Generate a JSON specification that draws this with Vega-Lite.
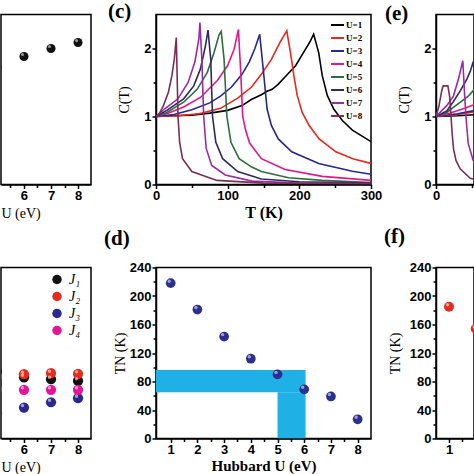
{
"$schema": "https://vega.github.io/schema/vega-lite/v6.json",
"background": "white",
"padding": {"left": 0, "top": -0.5, "right": 0, "bottom": 0},
"bounds": "flush",
"columns": 3,
"spacing": {"row": 83, "column": 65},
"resolve": {"scale": {"color": "independent"}, "legend": {"color": "independent"}},
"config": {
  "view": {"stroke": "black", "strokeWidth": 1.5},
  "axis": {"grid": false, "domainColor": "black", "domainWidth": 1.5, "tickColor": "black", "tickWidth": 1.5, "tickSize": 4, "labelFont": "Liberation Sans", "labelFontWeight": "bold", "labelFontSize": 13, "labelColor": "black", "labelPadding": 1, "titleFont": "Liberation Serif", "titleFontWeight": "bold", "titleFontSize": 15, "titleColor": "black", "labelFlush": false, "labelOverlap": false},
  "title": {"font": "Liberation Serif", "fontWeight": "bold", "fontSize": 21, "color": "black", "anchor": "start", "frame": "group", "baseline": "alphabetic", "offset": 0},
  "legend": {"labelColor": "black"}
},
"datasets": {
  "a": [{"U": 5, "v": 0.688}, {"U": 6, "v": 0.753}, {"U": 7, "v": 0.8}, {"U": 8, "v": 0.835}],
  "b": [
    {"U": 5, "J": "J₁", "v": 0.392}, {"U": 6, "J": "J₁", "v": 0.358}, {"U": 7, "J": "J₁", "v": 0.347}, {"U": 8, "J": "J₁", "v": 0.337},
    {"U": 5, "J": "J₂", "v": 0.363}, {"U": 6, "J": "J₂", "v": 0.376}, {"U": 7, "J": "J₂", "v": 0.382}, {"U": 8, "J": "J₂", "v": 0.378},
    {"U": 5, "J": "J₃", "v": 0.148}, {"U": 6, "J": "J₃", "v": 0.181}, {"U": 7, "J": "J₃", "v": 0.212}, {"U": 8, "J": "J₃", "v": 0.236},
    {"U": 5, "J": "J₄", "v": 0.289}, {"U": 6, "J": "J₄", "v": 0.285}, {"U": 7, "J": "J₄", "v": 0.285}, {"U": 8, "J": "J₄", "v": 0.285}
  ],
  "d": [{"U": 1, "TN": 218}, {"U": 2, "TN": 181}, {"U": 3, "TN": 143}, {"U": 4, "TN": 112}, {"U": 5, "TN": 90}, {"U": 6, "TN": 69}, {"U": 7, "TN": 59}, {"U": 8, "TN": 27}],
  "band": [{"x1": 0.45, "x2": 6.05, "y1": 65, "y2": 96}, {"x1": 5.0, "x2": 6.05, "y1": 0, "y2": 65}],
  "f": [{"U": 1, "TN": 185}, {"U": 2, "TN": 154}],
  "c": [
    {"U":"U=1","T":0,"C":1.0},{"U":"U=1","T":25,"C":1.01},{"U":"U=1","T":50,"C":1.02},{"U":"U=1","T":75,"C":1.05},{"U":"U=1","T":100,"C":1.09},{"U":"U=1","T":120,"C":1.16},{"U":"U=1","T":133,"C":1.25},{"U":"U=1","T":147,"C":1.32},{"U":"U=1","T":155,"C":1.37},{"U":"U=1","T":162,"C":1.4},{"U":"U=1","T":170,"C":1.47},{"U":"U=1","T":180,"C":1.58},{"U":"U=1","T":195,"C":1.75},{"U":"U=1","T":208,"C":1.98},{"U":"U=1","T":215,"C":2.1},{"U":"U=1","T":220,"C":2.21},{"U":"U=1","T":227,"C":1.94},{"U":"U=1","T":232,"C":1.6},{"U":"U=1","T":239,"C":1.31},{"U":"U=1","T":248,"C":1.11},{"U":"U=1","T":260,"C":0.94},{"U":"U=1","T":274,"C":0.8},{"U":"U=1","T":300,"C":0.63},
    {"U":"U=2","T":0,"C":1.0},{"U":"U=2","T":30,"C":1.01},{"U":"U=2","T":60,"C":1.04},{"U":"U=2","T":90,"C":1.12},{"U":"U=2","T":114,"C":1.27},{"U":"U=2","T":133,"C":1.43},{"U":"U=2","T":147,"C":1.62},{"U":"U=2","T":161,"C":1.84},{"U":"U=2","T":173,"C":2.09},{"U":"U=2","T":182.5,"C":2.26},{"U":"U=2","T":187.6,"C":1.94},{"U":"U=2","T":192.4,"C":1.6},{"U":"U=2","T":197,"C":1.31},{"U":"U=2","T":204,"C":1.06},{"U":"U=2","T":213.5,"C":0.87},{"U":"U=2","T":227.6,"C":0.67},{"U":"U=2","T":251,"C":0.48},{"U":"U=2","T":274.5,"C":0.38},{"U":"U=2","T":300,"C":0.31},
    {"U":"U=3","T":0,"C":1.0},{"U":"U=3","T":25,"C":1.03},{"U":"U=3","T":50,"C":1.1},{"U":"U=3","T":75,"C":1.2},{"U":"U=3","T":90,"C":1.3},{"U":"U=3","T":105,"C":1.43},{"U":"U=3","T":120,"C":1.62},{"U":"U=3","T":130,"C":1.8},{"U":"U=3","T":138,"C":2.0},{"U":"U=3","T":144.7,"C":2.21},{"U":"U=3","T":150.5,"C":1.6},{"U":"U=3","T":155,"C":1.11},{"U":"U=3","T":161,"C":0.87},{"U":"U=3","T":170.6,"C":0.67},{"U":"U=3","T":189.4,"C":0.48},{"U":"U=3","T":227,"C":0.31},{"U":"U=3","T":274,"C":0.195},{"U":"U=3","T":300,"C":0.15},
    {"U":"U=4","T":0,"C":1.0},{"U":"U=4","T":15,"C":1.04},{"U":"U=4","T":38.6,"C":1.14},{"U":"U=4","T":62,"C":1.28},{"U":"U=4","T":85.6,"C":1.53},{"U":"U=4","T":100,"C":1.75},{"U":"U=4","T":109,"C":1.99},{"U":"U=4","T":115,"C":2.28},{"U":"U=4","T":118,"C":1.7},{"U":"U=4","T":121,"C":1.0},{"U":"U=4","T":125,"C":0.8},{"U":"U=4","T":130.6,"C":0.61},{"U":"U=4","T":147,"C":0.38},{"U":"U=4","T":180,"C":0.22},{"U":"U=4","T":232,"C":0.12},{"U":"U=4","T":300,"C":0.06},
    {"U":"U=5","T":0,"C":1.0},{"U":"U=5","T":15,"C":1.06},{"U":"U=5","T":38.6,"C":1.21},{"U":"U=5","T":57.4,"C":1.4},{"U":"U=5","T":71.6,"C":1.65},{"U":"U=5","T":81,"C":1.94},{"U":"U=5","T":88,"C":2.2},{"U":"U=5","T":91,"C":2.25},{"U":"U=5","T":95,"C":1.84},{"U":"U=5","T":98.8,"C":1.01},{"U":"U=5","T":104.6,"C":0.62},{"U":"U=5","T":116,"C":0.38},{"U":"U=5","T":133,"C":0.26},{"U":"U=5","T":147,"C":0.19},{"U":"U=5","T":185,"C":0.1},{"U":"U=5","T":232,"C":0.06},{"U":"U=5","T":300,"C":0.03},
    {"U":"U=6","T":0,"C":1.0},{"U":"U=6","T":15,"C":1.09},{"U":"U=6","T":38.6,"C":1.26},{"U":"U=6","T":52.7,"C":1.45},{"U":"U=6","T":62,"C":1.7},{"U":"U=6","T":69,"C":2.04},{"U":"U=6","T":72.6,"C":2.27},{"U":"U=6","T":76.4,"C":1.84},{"U":"U=6","T":78.8,"C":1.01},{"U":"U=6","T":83.5,"C":0.62},{"U":"U=6","T":93,"C":0.38},{"U":"U=6","T":114,"C":0.19},{"U":"U=6","T":147,"C":0.08},{"U":"U=6","T":200,"C":0.04},{"U":"U=6","T":300,"C":0.02},
    {"U":"U=7","T":0,"C":1.0},{"U":"U=7","T":11.8,"C":1.11},{"U":"U=7","T":30.6,"C":1.26},{"U":"U=7","T":44.8,"C":1.5},{"U":"U=7","T":54.2,"C":1.8},{"U":"U=7","T":59.8,"C":2.14},{"U":"U=7","T":61.3,"C":2.38},{"U":"U=7","T":64,"C":1.84},{"U":"U=7","T":66.5,"C":1.01},{"U":"U=7","T":70,"C":0.53},{"U":"U=7","T":77.8,"C":0.28},{"U":"U=7","T":96.6,"C":0.14},{"U":"U=7","T":134,"C":0.05},{"U":"U=7","T":200,"C":0.02},{"U":"U=7","T":300,"C":0.01},
    {"U":"U=8","T":0,"C":1.0},{"U":"U=8","T":5,"C":1.05},{"U":"U=8","T":10.4,"C":1.16},{"U":"U=8","T":17.4,"C":1.36},{"U":"U=8","T":22.2,"C":1.6},{"U":"U=8","T":25.5,"C":1.84},{"U":"U=8","T":28.3,"C":2.16},{"U":"U=8","T":29.5,"C":1.6},{"U":"U=8","T":30.7,"C":1.0},{"U":"U=8","T":33,"C":0.62},{"U":"U=8","T":37,"C":0.38},{"U":"U=8","T":50,"C":0.19},{"U":"U=8","T":85,"C":0.06},{"U":"U=8","T":150,"C":0.02},{"U":"U=8","T":300,"C":0.01}
  ],
  "e": [
    {"U":"U=1","T":0,"C":1.0},{"U":"U=1","T":30,"C":1.01},{"U":"U=1","T":60,"C":1.03},
    {"U":"U=2","T":0,"C":1.0},{"U":"U=2","T":30,"C":1.03},{"U":"U=2","T":60,"C":1.08},
    {"U":"U=3","T":0,"C":1.0},{"U":"U=3","T":30,"C":1.04},{"U":"U=3","T":60,"C":1.1},
    {"U":"U=4","T":0,"C":1.0},{"U":"U=4","T":20,"C":1.05},{"U":"U=4","T":40,"C":1.12},{"U":"U=4","T":52,"C":1.17},{"U":"U=4","T":60,"C":1.2},
    {"U":"U=5","T":0,"C":1.0},{"U":"U=5","T":15,"C":1.06},{"U":"U=5","T":25,"C":1.14},{"U":"U=5","T":35,"C":1.22},{"U":"U=5","T":45,"C":1.3},{"U":"U=5","T":52,"C":1.38},{"U":"U=5","T":60,"C":1.5},
    {"U":"U=6","T":0,"C":1.0},{"U":"U=6","T":15,"C":1.08},{"U":"U=6","T":24.3,"C":1.22},{"U":"U=6","T":34,"C":1.38},{"U":"U=6","T":43,"C":1.55},{"U":"U=6","T":48,"C":1.67},{"U":"U=6","T":52,"C":1.81},{"U":"U=6","T":55,"C":1.4},{"U":"U=6","T":58,"C":1.0},
    {"U":"U=7","T":0,"C":1.0},{"U":"U=7","T":15,"C":1.16},{"U":"U=7","T":24.3,"C":1.3},{"U":"U=7","T":31.3,"C":1.55},{"U":"U=7","T":37.4,"C":1.82},{"U":"U=7","T":40,"C":1.3},{"U":"U=7","T":42.5,"C":0.9},{"U":"U=7","T":45,"C":0.6},{"U":"U=7","T":52,"C":0.35},
    {"U":"U=8","T":0,"C":1.0},{"U":"U=8","T":4,"C":1.15},{"U":"U=8","T":8,"C":1.38},{"U":"U=8","T":10,"C":1.45},{"U":"U=8","T":16.5,"C":1.45},{"U":"U=8","T":19,"C":1.3},{"U":"U=8","T":21,"C":1.0},{"U":"U=8","T":22.5,"C":0.75},{"U":"U=8","T":24.5,"C":0.52},{"U":"U=8","T":28,"C":0.35},{"U":"U=8","T":33.7,"C":0.23},{"U":"U=8","T":47.7,"C":0.09},{"U":"U=8","T":60,"C":0.06}
  ]
},
"concat": [
  {
    "width": 90, "height": 170,
    "data": {"name": "a"},
    "layer": [
      {"mark": {"type": "circle", "size": 82, "color": "#111111", "opacity": 1, "clip": true},
       "encoding": {
         "x": {"field": "U", "type": "quantitative", "scale": {"domain": [5.15, 8.48], "nice": false, "zero": false}, "axis": {"values": [6, 7, 8], "title": "U (eV)", "titleAnchor": "start", "titleFontWeight": "normal", "titleFontSize": 14}},
         "y": {"field": "v", "type": "quantitative", "scale": {"domain": [0, 1], "nice": false}, "axis": null}}},
      {"mark": {"type": "circle", "size": 10, "color": "white", "opacity": 0.55, "xOffset": -1.5, "yOffset": -2, "clip": true},
       "encoding": {
         "x": {"field": "U", "type": "quantitative", "scale": {"domain": [5.15, 8.48], "nice": false, "zero": false}, "axis": {"values": [5.5, 6.5, 7.5], "labels": false, "title": null, "domain": false, "tickSize": 3, "orient": "bottom"}},
         "y": {"field": "v", "type": "quantitative", "scale": {"domain": [0, 1], "nice": false}, "axis": null}}}
    ],
    "resolve": {"axis": {"x": "independent", "y": "independent"}}
  },
  {
    "width": 215, "height": 170,
    "title": {"text": "(c)", "dx": -48, "dy": 11.5},
    "data": {"name": "c"},
    "layer": [
      {"mark": {"type": "line", "strokeWidth": 1.6, "clip": true},
       "encoding": {
         "x": {"field": "T", "type": "quantitative", "scale": {"domain": [0, 300], "nice": false, "zero": false}, "axis": {"values": [0, 100, 200, 300], "title": "T (K)", "titleFontSize": 16, "titlePadding": 2}},
         "y": {"field": "C", "type": "quantitative", "scale": {"domain": [0, 2.5], "nice": false}, "axis": {"values": [0, 1, 2], "title": "C(T)", "titleFontWeight": "normal", "titleFontSize": 14, "titlePadding": 12}},
         "color": {"field": "U", "type": "nominal",
           "scale": {"domain": ["U=1","U=2","U=3","U=4","U=5","U=6","U=7","U=8"], "range": ["#000000","#e8271d","#27278f","#e3168e","#2d6e3e","#2f2b62","#9a2aa8","#7c2d55"]},
           "legend": {"orient": "none", "legendX": 174, "legendY": 3, "title": null, "symbolType": "stroke", "symbolStrokeWidth": 2, "symbolSize": 169, "labelFont": "Liberation Serif", "labelFontWeight": "bold", "labelFontSize": 9, "rowPadding": -2, "labelOffset": 1, "padding": 0}}}},
      {"mark": {"type": "point", "opacity": 0},
       "encoding": {
         "x": {"field": "T", "type": "quantitative", "scale": {"domain": [0, 300], "nice": false, "zero": false}, "axis": {"values": [50, 150, 250], "labels": false, "title": null, "domain": false, "tickSize": 3, "orient": "bottom"}},
         "y": {"field": "C", "type": "quantitative", "scale": {"domain": [0, 2.5], "nice": false}, "axis": {"values": [0.5, 1.5], "labels": false, "title": null, "domain": false, "tickSize": 3, "orient": "left"}}}}
    ],
    "resolve": {"axis": {"x": "independent", "y": "independent"}}
  },
  {
    "width": 38, "height": 170,
    "title": {"text": "(e)", "dx": -51, "dy": 13},
    "data": {"name": "e"},
    "layer": [
      {"mark": {"type": "line", "strokeWidth": 1.6, "clip": true},
       "encoding": {
         "x": {"field": "T", "type": "quantitative", "scale": {"domain": [0, 53], "nice": false, "zero": false}, "axis": {"values": [0], "title": null}},
         "y": {"field": "C", "type": "quantitative", "scale": {"domain": [0, 2.5], "nice": false}, "axis": {"values": [0, 1, 2], "title": "C(T)", "titleFontWeight": "normal", "titleFontSize": 14, "titlePadding": 12}},
         "color": {"field": "U", "type": "nominal",
           "scale": {"domain": ["U=1","U=2","U=3","U=4","U=5","U=6","U=7","U=8"], "range": ["#000000","#e8271d","#27278f","#e3168e","#2d6e3e","#2f2b62","#9a2aa8","#7c2d55"]},
           "legend": null}}},
      {"mark": {"type": "point", "opacity": 0},
       "encoding": {
         "x": {"field": "T", "type": "quantitative", "scale": {"domain": [0, 53], "nice": false, "zero": false}, "axis": {"values": [50], "labels": false, "title": null, "domain": false, "tickSize": 3, "orient": "bottom"}},
         "y": {"field": "C", "type": "quantitative", "scale": {"domain": [0, 2.5], "nice": false}, "axis": {"values": [0.5, 1.5], "labels": false, "title": null, "domain": false, "tickSize": 3, "orient": "left"}}}}
    ],
    "resolve": {"axis": {"x": "independent", "y": "independent"}}
  },
  {
    "width": 90, "height": 171,
    "data": {"name": "b"},
    "layer": [
      {"mark": {"type": "circle", "size": 105, "opacity": 1, "clip": true},
       "encoding": {
         "x": {"field": "U", "type": "quantitative", "scale": {"domain": [5.15, 8.48], "nice": false, "zero": false}, "axis": {"values": [6, 7, 8], "title": "U (eV)", "titleAnchor": "start", "titleFontWeight": "normal", "titleFontSize": 14}},
         "y": {"field": "v", "type": "quantitative", "scale": {"domain": [0, 1], "nice": false}, "axis": null},
         "color": {"field": "J", "type": "nominal",
           "scale": {"domain": ["J₁", "J₂", "J₃", "J₄"], "range": ["#111111", "#e52d1f", "#2a2a8e", "#e3169a"]},
           "legend": {"orient": "none", "legendX": 49, "legendY": 5, "title": null, "symbolType": "circle", "symbolSize": 90, "symbolOpacity": 1, "labelFont": "Liberation Serif", "labelFontStyle": "italic", "labelFontSize": 14, "rowPadding": 3, "labelOffset": 5, "padding": 0}}}},
      {"mark": {"type": "circle", "size": 12, "color": "white", "opacity": 0.55, "xOffset": -1.5, "yOffset": -2, "clip": true},
       "encoding": {
         "x": {"field": "U", "type": "quantitative", "scale": {"domain": [5.15, 8.48], "nice": false, "zero": false}, "axis": {"values": [5.5, 6.5, 7.5], "labels": false, "title": null, "domain": false, "tickSize": 3, "orient": "bottom"}},
         "y": {"field": "v", "type": "quantitative", "scale": {"domain": [0, 1], "nice": false}, "axis": null}}}
    ],
    "resolve": {"axis": {"x": "independent", "y": "independent"}}
  },
  {
    "width": 215, "height": 171,
    "title": {"text": "(d)", "dx": -52, "dy": -9},
    "layer": [
      {"data": {"name": "band"},
       "mark": {"type": "rect", "color": "#1fb0e6", "clip": true},
       "encoding": {
         "x": {"field": "x1", "type": "quantitative", "scale": {"domain": [0.45, 8.5], "nice": false, "zero": false}, "axis": {"values": [1, 2, 3, 4, 5, 6, 7, 8], "title": "Hubbard U (eV)", "titlePadding": 2}},
         "x2": {"field": "x2"},
         "y": {"field": "y1", "type": "quantitative", "scale": {"domain": [0, 240], "nice": false}, "axis": {"values": [0, 40, 80, 120, 160, 200, 240], "title": "TN (K)", "titleFontWeight": "normal", "titleFontSize": 14, "titlePadding": 2}},
         "y2": {"field": "y2"}}},
      {"data": {"name": "d"},
       "mark": {"type": "circle", "size": 95, "color": "#2b2f8f", "opacity": 1, "clip": true},
       "encoding": {
         "x": {"field": "U", "type": "quantitative", "scale": {"domain": [0.45, 8.5], "nice": false, "zero": false}, "axis": null},
         "y": {"field": "TN", "type": "quantitative", "scale": {"domain": [0, 240], "nice": false}, "axis": null}}},
      {"data": {"name": "d"},
       "mark": {"type": "circle", "size": 12, "color": "white", "opacity": 0.55, "xOffset": -1.5, "yOffset": -2, "clip": true},
       "encoding": {
         "x": {"field": "U", "type": "quantitative", "scale": {"domain": [0.45, 8.5], "nice": false, "zero": false}, "axis": {"values": [1.5, 2.5, 3.5, 4.5, 5.5, 6.5, 7.5], "labels": false, "title": null, "domain": false, "tickSize": 3, "orient": "bottom"}},
         "y": {"field": "TN", "type": "quantitative", "scale": {"domain": [0, 240], "nice": false}, "axis": {"values": [20, 60, 100, 140, 180, 220], "labels": false, "title": null, "domain": false, "tickSize": 3, "orient": "left"}}}}
    ],
    "resolve": {"axis": {"x": "independent", "y": "independent"}}
  },
  {
    "width": 38, "height": 171,
    "title": {"text": "(f)", "dx": -52, "dy": -11},
    "data": {"name": "f"},
    "layer": [
      {"mark": {"type": "circle", "size": 100, "color": "#e52a1f", "opacity": 1, "clip": true},
       "encoding": {
         "x": {"field": "U", "type": "quantitative", "scale": {"domain": [0.513, 1.936], "nice": false, "zero": false}, "axis": {"values": [1], "title": null}},
         "y": {"field": "TN", "type": "quantitative", "scale": {"domain": [0, 240], "nice": false}, "axis": {"values": [0, 40, 80, 120, 160, 200, 240], "title": "TN (K)", "titleFontWeight": "normal", "titleFontSize": 14, "titlePadding": 7}}}},
      {"mark": {"type": "circle", "size": 12, "color": "white", "opacity": 0.55, "xOffset": -1.5, "yOffset": -2, "clip": true},
       "encoding": {
         "x": {"field": "U", "type": "quantitative", "scale": {"domain": [0.513, 1.936], "nice": false, "zero": false}, "axis": {"values": [1.5], "labels": false, "title": null, "domain": false, "tickSize": 3, "orient": "bottom"}},
         "y": {"field": "TN", "type": "quantitative", "scale": {"domain": [0, 240], "nice": false}, "axis": {"values": [20, 60, 100, 140, 180, 220], "labels": false, "title": null, "domain": false, "tickSize": 3, "orient": "left"}}}}
    ],
    "resolve": {"axis": {"x": "independent", "y": "independent"}}
  }
]
}
